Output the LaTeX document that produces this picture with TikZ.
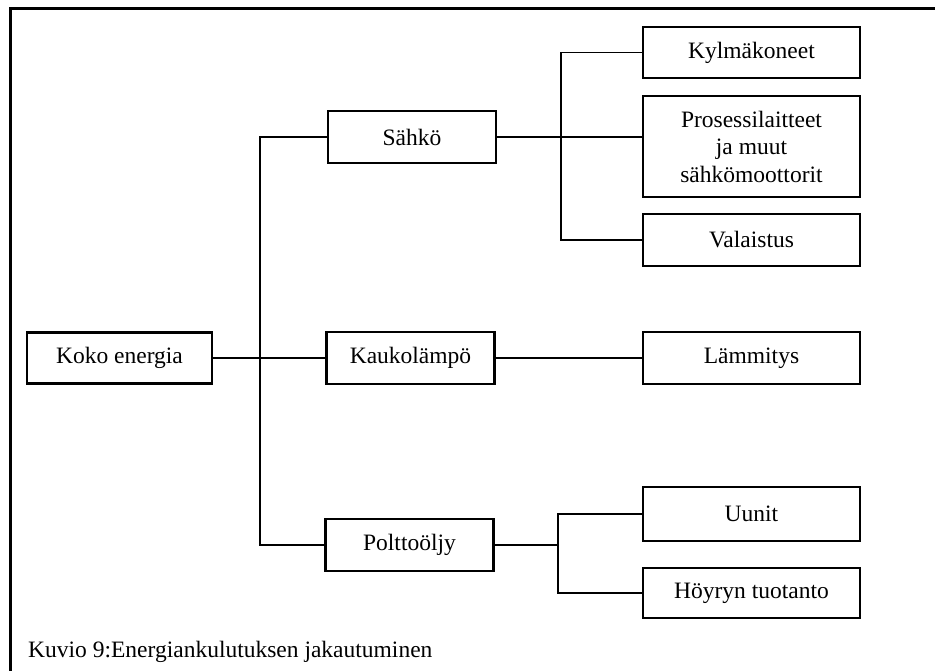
\documentclass[tikz,border=0pt]{standalone}
\usepackage{fontspec}
\setmainfont{Liberation Serif}
\begin{document}
\begin{tikzpicture}[x=1pt,y=-1pt,
  box/.style={draw,line width=2.2pt,inner sep=0pt,align=center,
    font=\fontsize{23.5}{27.5}\selectfont},
  midbox/.style={box,minimum width=168pt,minimum height=52pt},
  rbox/.style={box,minimum width=217pt,minimum height=52pt},
  conn/.style={line width=1.9pt}]
\useasboundingbox (0,0) rectangle (935,671);
\fill[white] (0,0) rectangle (935,671);
% frame
\draw[line width=3pt] (10,672) -- (10,8.7) -- (936,8.7);
% nodes
\node[box,minimum width=185pt,minimum height=51pt] (koko) at (119.5,358) {Koko energia};
\node[midbox] (sahko) at (412,137) {Sähkö};
\node[midbox] (kauko) at (410.5,358) {Kaukolämpö};
\node[midbox] (poltto) at (409.5,545) {Polttoöljy};
\node[rbox,minimum height=51pt] (kylma) at (751.5,52.5) {Kylmäkoneet};
\node[rbox,minimum height=101pt] (prosessi) at (751.5,146.5) {Prosessilaitteet\\ja muut\\sähkömoottorit};
\node[rbox] (valaistus) at (751.5,240) {Valaistus};
\node[rbox] (lammitys) at (751.5,358) {Lämmitys};
\node[rbox,minimum height=54pt] (uunit) at (751.5,514) {Uunit};
\node[rbox,minimum height=50pt] (hoyryn) at (751.5,593) {Höyryn tuotanto};
\node[anchor=base west,inner sep=0pt,font=\fontsize{23.5}{27}\selectfont] (caption) at (28,657) {Kuvio 9:Energiankulutuksen jakautuminen};
% coordinates for vertical branches
\coordinate (t) at (260,0);
\coordinate (b1) at (561,0);
\coordinate (b2) at (558,0);
% connectors
\draw[conn] (koko.east) -- (kauko.west);
\draw[conn] (sahko.west) -- (sahko.west -| t) -- (poltto.west -| t) -- (poltto.west);
\draw[conn] (sahko.east) -- (sahko.east -| prosessi.west);
\draw[conn] (kylma.west) -- (kylma.west -| b1) -- (valaistus.west -| b1) -- (valaistus.west);
\draw[conn] (kauko.east) -- (lammitys.west);
\draw[conn] (poltto.east) -- (poltto.east -| b2);
\draw[conn] (uunit.west) -- (uunit.west -| b2) -- (hoyryn.west -| b2) -- (hoyryn.west);
\end{tikzpicture}
\end{document}
